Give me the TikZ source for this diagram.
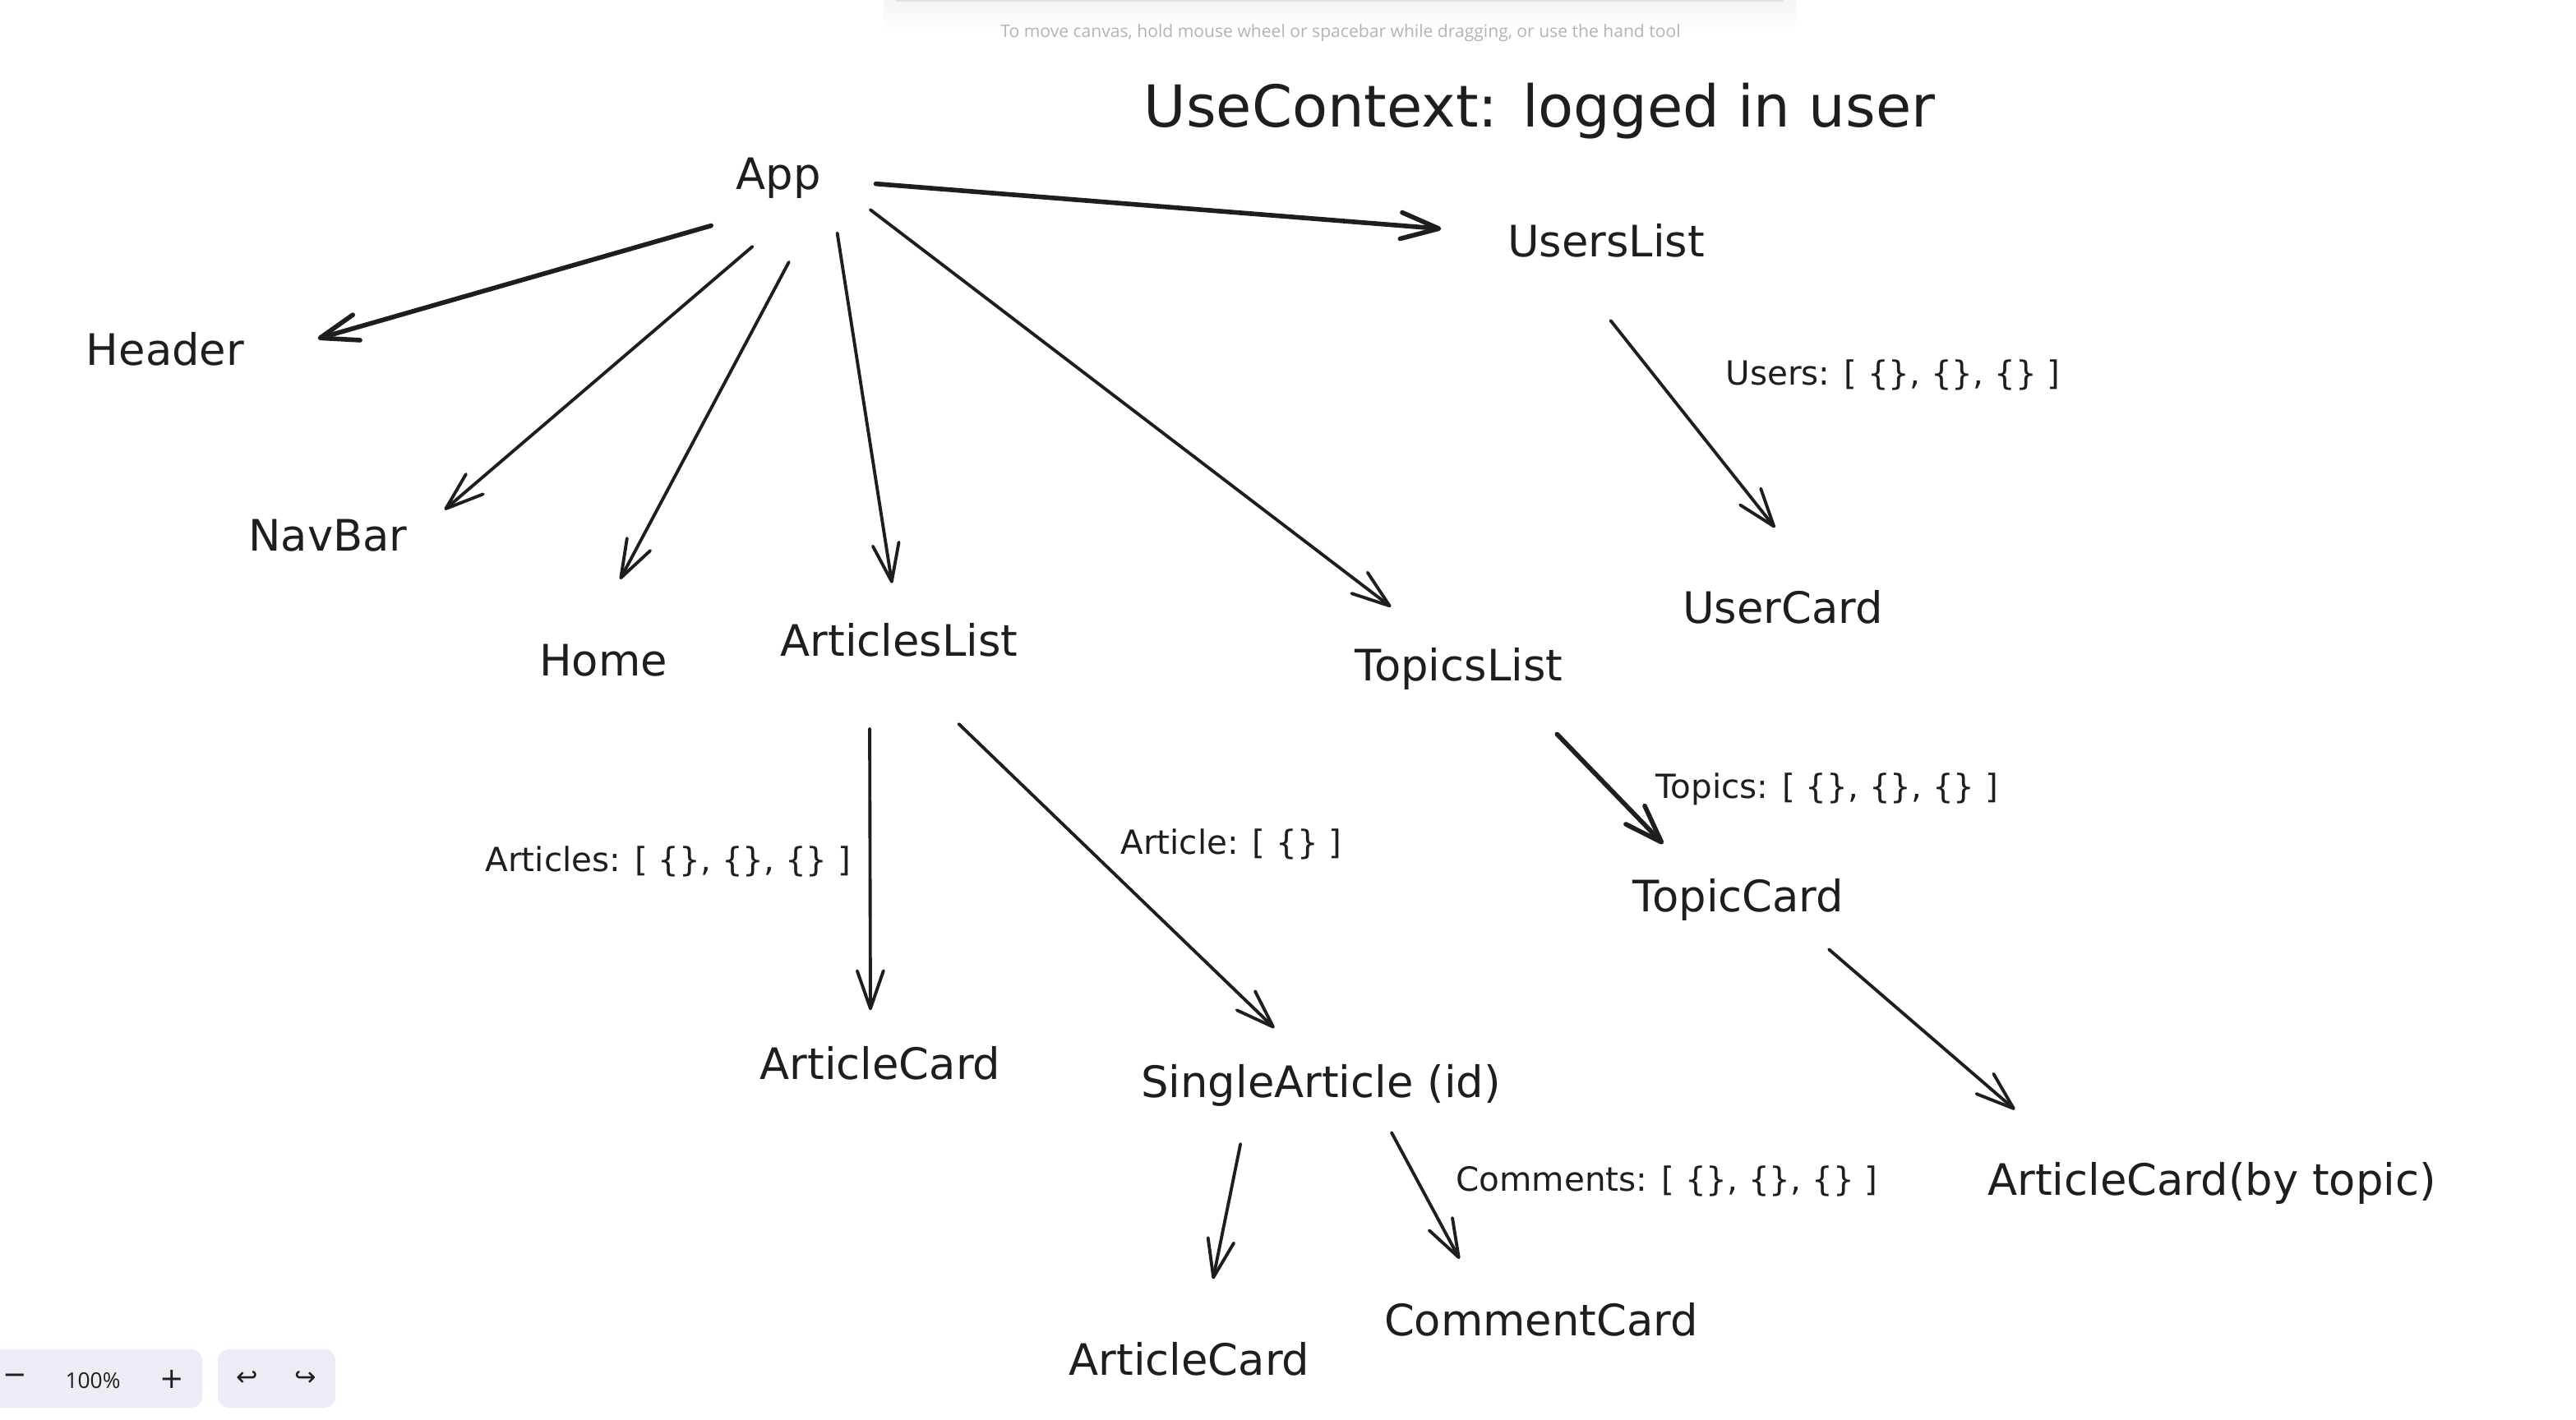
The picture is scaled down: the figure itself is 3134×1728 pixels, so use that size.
\documentclass[tikz,border=0pt]{standalone}
\usepackage{fontspec}
\setmainfont{DejaVu Sans}
\newfontfamily\uifont{Open Sans}
\newfontfamily\symfont{DejaVu Sans}
\usetikzlibrary{arrows.meta}
\definecolor{ink}{HTML}{1E1E1E}
\definecolor{panel}{HTML}{ECECF4}
\definecolor{hint}{HTML}{B3B3B3}

\begin{document}
\begin{tikzpicture}[x=0.01cm,y=-0.01cm,
  comp/.style={text=ink,inner sep=0pt,font=\fontsize{15}{18}\selectfont},
  lbl/.style={text=ink,inner sep=0pt,font=\fontsize{11.5}{14}\selectfont},
  arr/.style={draw=ink,line width=1.1pt,line cap=round,line join=round,
    -{Straight Barb[length=4.6mm,width=3.2mm,round]}},
  thickarr/.style={line width=1.6pt},
  ui/.style={text=ink,inner sep=0pt,font=\uifont\fontsize{7.5}{9}\selectfont}]
  \useasboundingbox (0,0) rectangle (3134,1728);
  \fill[white] (0,0) rectangle (3134,1728);
  \shade[top color=black!4,bottom color=white] (1075,0) rectangle (2185,36);
  \fill[black!11] (1090,0) rectangle (2170,2);
  \node[text=hint,inner sep=0pt,font=\uifont\fontsize{6}{7}\selectfont] (hinttxt) at (1631,40)
    {To move canvas, hold mouse wheel or spacebar while dragging, or use the hand tool};
  \node[text=ink,inner sep=0pt,font=\fontsize{20}{24}\selectfont] (ctx) at (1873,135) {UseContext: logged in user};

  \node[comp,minimum width=1.22cm,minimum height=0.84cm] (app) at (947,217) {App};
  \node[comp,minimum width=2.14cm,minimum height=0.76cm] (header) at (201,425) {Header};
  \node[comp,minimum width=2.32cm,minimum height=0.68cm] (navbar) at (399,652) {NavBar};
  \node[comp,minimum width=1.56cm,minimum height=0.66cm] (home) at (734,804) {Home};
  \node[comp,minimum width=3.40cm,minimum height=0.76cm] (artlist) at (1094,779) {ArticlesList};
  \node[comp,minimum width=3.12cm,minimum height=0.84cm] (topiclist) at (1775,814) {TopicsList};
  \node[comp,minimum width=2.88cm,minimum height=0.66cm] (userlist) at (1954,293) {UsersList};
  \node[comp,minimum width=2.84cm,minimum height=0.78cm] (usercard) at (2169,739) {UserCard};
  \node[comp,minimum width=3.04cm,minimum height=0.80cm] (topiccard) at (2115,1095) {TopicCard};
  \node[comp,minimum width=3.32cm,minimum height=0.68cm] (artcard) at (1071,1294) {ArticleCard};
  \node[comp,minimum width=4.70cm,minimum height=0.76cm] (single) at (1607,1321) {SingleArticle (id)};
  \node[comp,minimum width=5.90cm,minimum height=0.84cm] (bytopic) at (2691,1440) {ArticleCard(by topic)};
  \node[comp,minimum width=3.36cm,minimum height=0.80cm] (artcard2) at (1447,1654) {ArticleCard};
  \node[comp,minimum width=3.80cm,minimum height=0.64cm] (comcard) at (1875,1606) {CommentCard};

  \node[lbl] (userstxt) at (2303,456) {Users: [ \{\}, \{\}, \{\} ]};
  \node[lbl] (topicstxt) at (2223,960) {Topics: [ \{\}, \{\}, \{\} ]};
  \node[lbl] (articlestxt) at (813,1048) {Articles: [ \{\}, \{\}, \{\} ]};
  \node[lbl] (articletxt) at (1498,1027) {Article: [ \{\} ]};
  \node[lbl] (commentstxt) at (2028,1437) {Comments: [ \{\}, \{\}, \{\} ]};

  \draw[arr,thickarr,shorten <=5.4mm,shorten >=8.1mm] (app.-125) -- (header.-5);
  \draw[arr,shorten <=6.2mm,shorten >=3.3mm] (app.-70) -- (navbar.5);
  \draw[arr,shorten <=6.7mm,shorten >=7.4mm] (app.-44) -- (home.113);
  \draw[arr,shorten <=6.4mm,shorten >=3.1mm] (app.-3) -- (artlist.96);
  \draw[arr,shorten <=6.3mm,shorten >=5.4mm] (app.0) -- (topiclist.133);
  \draw[arr,thickarr,shorten <=5.7mm,shorten >=5.6mm] (app.-2) -- (userlist.176);
  \draw[arr,shorten <=8.1mm,shorten >=7.3mm] (userlist.-143) -- (usercard.48);
  \draw[arr,shorten <=6.9mm,shorten >=3mm] (artlist.-133) -- (artcard.109);
  \draw[arr,shorten <=9.1mm,shorten >=4.5mm] (artlist.-80) -- (single.122);
  \draw[arr,thickarr,shorten <=5.1mm,shorten >=3.8mm] (topiclist.-27) -- (topiccard.148);
  \draw[arr,shorten <=3mm,shorten >=7.2mm] (topiccard.-25) -- (bytopic.167);
  \draw[arr,shorten <=3.3mm,shorten >=5.8mm] (single.-157) -- (artcard2.67);
  \draw[arr,shorten <=2.1mm,shorten >=4.7mm] (single.-27) -- (comcard.157);

  \fill[panel,rounded corners=1.3mm] (-30,1642) rectangle (246,1713);
  \fill[panel,rounded corners=1.3mm] (265,1642) rectangle (408,1713);
  \node[ui,font=\symfont\fontsize{10}{12}\selectfont] (zoomout) at (18,1678) {−};
  \node[ui] (zoomlevel) at (113,1680) {100\%};
  \node[ui,font=\symfont\fontsize{10}{12}\selectfont] (zoomin) at (209,1678) {+};
  \node[ui,font=\symfont\fontsize{9}{11}\selectfont] (undo) at (301,1678) {↩};
  \node[ui,font=\symfont\fontsize{9}{11}\selectfont] (redo) at (372,1678) {↪};
\end{tikzpicture}
\end{document}
